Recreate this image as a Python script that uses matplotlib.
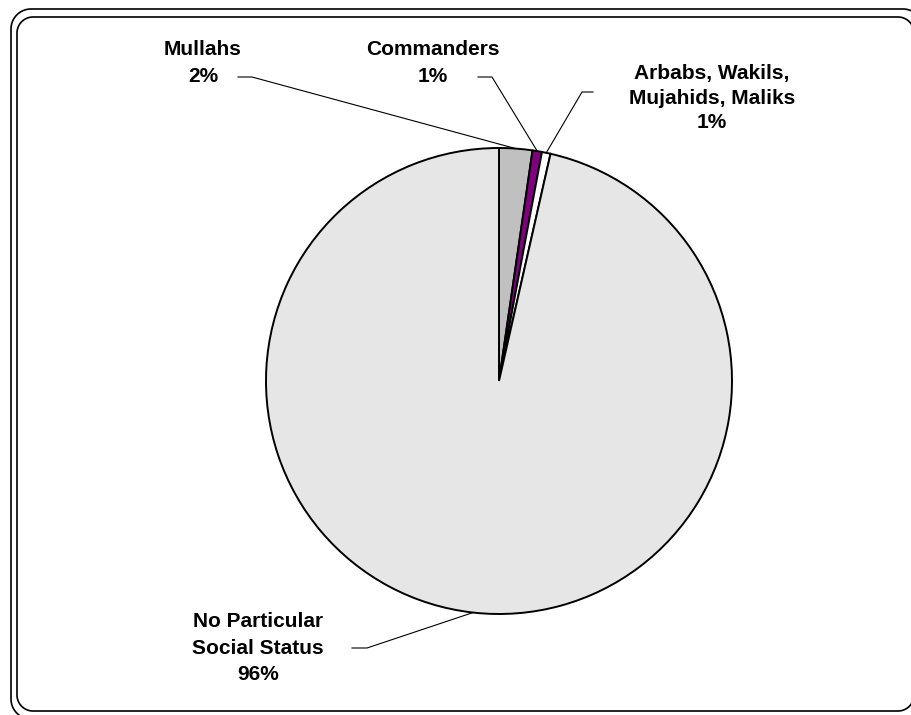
import numpy as np
import matplotlib
matplotlib.use("Agg")
import matplotlib.pyplot as plt

# Data (shares of respondents)
categories = ["Mullahs", "Commanders", "Arbabs, Wakils,\nMujahids, Maliks", "No Particular\nSocial Status"]
shares = [2.3, 0.65, 0.6, 96.45]
pct_labels = ["2%", "1%", "1%", "96%"]
colors = ["#c0c0c0", "#800080", "#ffffff", "#e6e6e6"]

W, H = 911, 715


def rounded_rect(x0, y0, x1, y1, rad, n=24):
    # outline of a rounded rectangle as a closed polyline
    xs, ys = [], []
    corners = [(x1 - rad, y1 - rad, 0), (x0 + rad, y1 - rad, 90),
               (x0 + rad, y0 + rad, 180), (x1 - rad, y0 + rad, 270)]
    for ccx, ccy, a0 in corners:
        t = np.deg2rad(np.linspace(a0, a0 + 90, n))
        xs.extend(ccx + rad * np.cos(t))
        ys.extend(ccy + rad * np.sin(t))
    xs.append(xs[0])
    ys.append(ys[0])
    return xs, ys


fig = plt.figure(figsize=(W / 100, H / 100), dpi=100)
ax = fig.add_axes([0, 0, 1, 1])

cx, cy, r = 499, H - 381, 233
wedges, _ = ax.pie(shares, colors=colors, startangle=90, counterclock=False,
                   center=(cx, cy), radius=r,
                   wedgeprops=dict(edgecolor="black", linewidth=1.4))
ax.set_xlim(0, W)
ax.set_ylim(0, H)
ax.axis("off")

# double rounded frame (right side runs just off the image)
fx, fy = rounded_rect(11, H - 719, 923, H - 9, 20)
ax.plot(fx, fy, color="black", linewidth=1.2)
fx, fy = rounded_rect(17, H - 711, 914, H - 17, 16)
ax.plot(fx, fy, color="black", linewidth=1.2)

# labels: text centre, line spacing, leader stub
label_pos = [(203, H - 63), (433, H - 63), (712, H - 98), (258, H - 648)]
spacing = [1.52, 1.52, 1.4, 1.5]
stubs = [((238, 252), H - 77), ((478, 492), H - 77), ((593, 582), H - 92), ((352, 367), H - 648)]

for w, cat, pct, (tx, ty), ls, ((sx0, sx1), sy) in zip(wedges, categories, pct_labels,
                                                         label_pos, spacing, stubs):
    ang = np.deg2rad((w.theta1 + w.theta2) / 2)
    ex, ey = cx + r * np.cos(ang), cy + r * np.sin(ang)
    ax.text(tx, ty, cat + "\n" + pct, ha="center", va="center", fontsize=15,
            fontweight="bold", family="Liberation Sans", linespacing=ls)
    ax.plot([sx0, sx1, ex], [sy, sy, ey], color="black", linewidth=0.8)

fig.savefig("out.png", dpi=100)
